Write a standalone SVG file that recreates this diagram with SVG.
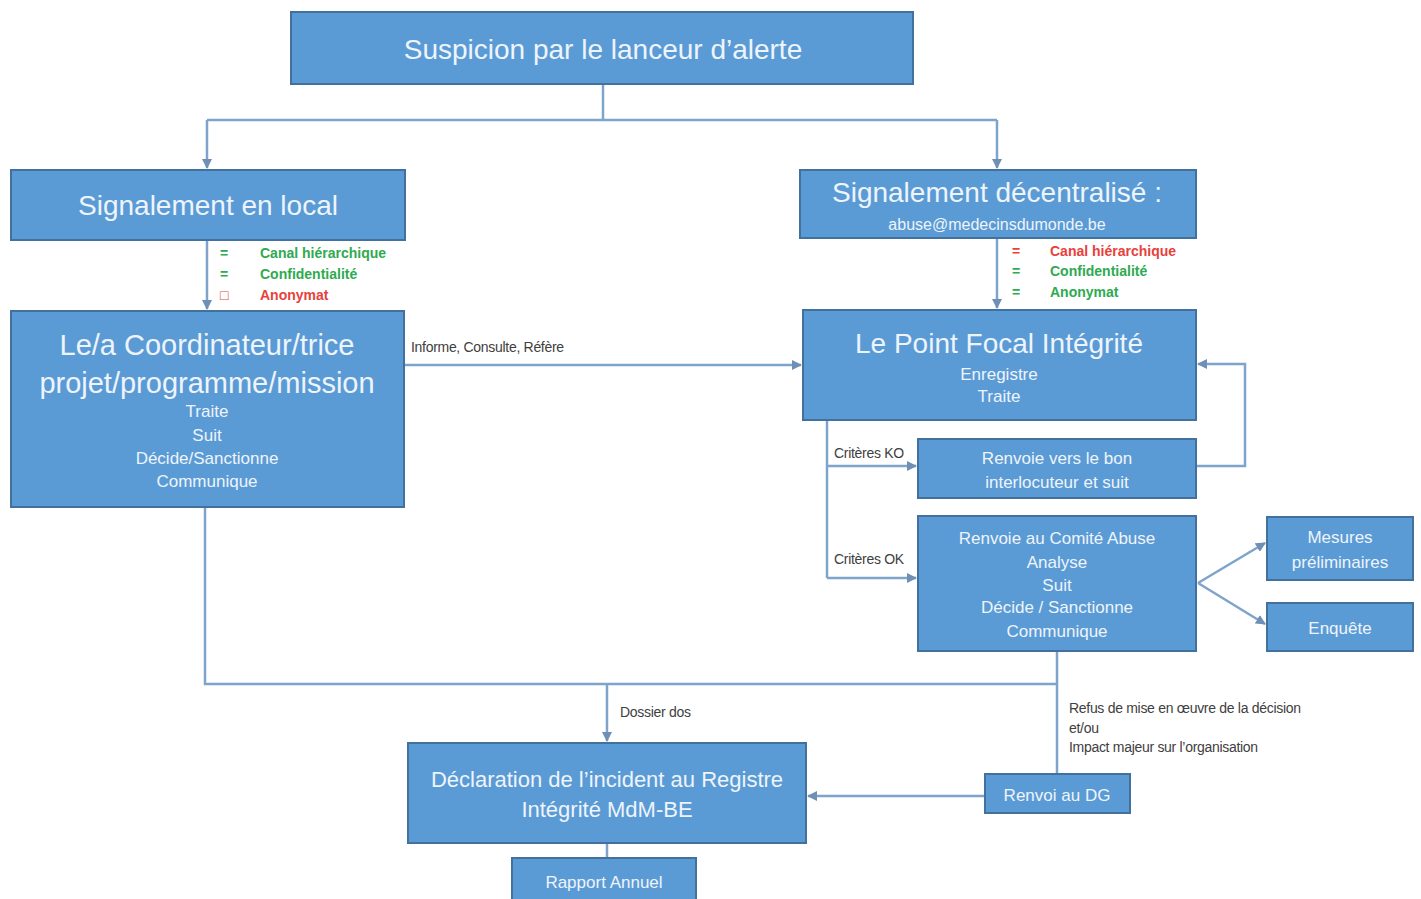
<svg xmlns="http://www.w3.org/2000/svg" width="1421" height="899" viewBox="0 0 1421 899">
<style>
.box{fill:#5b9bd5;stroke:#41719c;stroke-width:2}
.t{font-family:"Liberation Sans",Arial,sans-serif;fill:#eef4fb;text-anchor:middle}
.s{font-size:17px}
.lbl{font-family:"Liberation Sans",Arial,sans-serif;fill:#404040;font-size:14px;letter-spacing:-0.3px}
.g{font-family:"Liberation Sans",Arial,sans-serif;fill:#2eaa4f;font-size:14px;font-weight:bold}
.r{font-family:"Liberation Sans",Arial,sans-serif;fill:#e8413c;font-size:14px;font-weight:bold}
.c{fill:none;stroke:#7ea4cc;stroke-width:2.5}
</style>
<defs>
<marker id="ah" viewBox="0 0 10 10" refX="9" refY="5" markerWidth="4" markerHeight="4" orient="auto-start-reverse">
<path d="M0,0 L10,5 L0,10 z" fill="#6f8fb5"/>
</marker>
</defs>
<rect width="1421" height="899" fill="#ffffff"/>
<g id="connectors">
<path class="c" d="M603,84 V120"/>
<path class="c" d="M207,120 H997"/>
<path class="c" d="M207,120 V168" marker-end="url(#ah)"/>
<path class="c" d="M997,120 V168" marker-end="url(#ah)"/>
<path class="c" d="M207,240 V309" marker-end="url(#ah)"/>
<path class="c" d="M997,238 V308" marker-end="url(#ah)"/>
<path class="c" d="M404,365 H801" marker-end="url(#ah)"/>
<path class="c" d="M827,420 V578"/>
<path class="c" d="M827,466 H916" marker-end="url(#ah)"/>
<path class="c" d="M827,578 H916" marker-end="url(#ah)"/>
<path class="c" d="M1196,466 H1245 V364 H1198" marker-end="url(#ah)"/>
<path class="c" d="M1198,583 L1265,543" marker-end="url(#ah)"/>
<path class="c" d="M1198,583 L1265,624" marker-end="url(#ah)"/>
<path class="c" d="M205,507 V684 H1057"/>
<path class="c" d="M1057,651 V773"/>
<path class="c" d="M607,684 V741" marker-end="url(#ah)"/>
<path class="c" d="M985,796 H808" marker-end="url(#ah)"/>
<path class="c" d="M607,843 V858"/>
<text class="lbl" x="411" y="352">Informe, Consulte, Réfère</text>
<text class="lbl" x="834" y="458">Critères KO</text>
<text class="lbl" x="834" y="564">Critères OK</text>
<text class="lbl" x="620" y="717">Dossier dos</text>
<text class="lbl" x="1069" y="713">Refus de mise en œuvre de la décision</text>
<text class="lbl" x="1069" y="733">et/ou</text>
<text class="lbl" x="1069" y="752">Impact majeur sur l’organisation</text>
</g>
<g id="n-suspicion">
<rect class="box" x="291" y="12" width="622" height="72"/>
<text class="t" x="603" y="59" font-size="28">Suspicion par le lanceur d’alerte</text>
</g>
<g id="n-local">
<rect class="box" x="11" y="170" width="394" height="70"/>
<text class="t" x="208" y="215" font-size="28">Signalement en local</text>
</g>
<g id="n-local-list">
<text class="g" x="220" y="258">=</text><text class="g" x="260" y="258">Canal hiérarchique</text>
<text class="g" x="220" y="279">=</text><text class="g" x="260" y="279">Confidentialité</text>
<text class="r" x="220" y="300">□</text><text class="r" x="260" y="300">Anonymat</text>
</g>
<g id="n-decentral">
<rect class="box" x="800" y="170" width="396" height="68"/>
<text class="t" x="997" y="202" font-size="28">Signalement décentralisé :</text>
<text class="t" x="997" y="230" font-size="16">abuse@medecinsdumonde.be</text>
</g>
<g id="n-decentral-list">
<text class="r" x="1012" y="256">=</text><text class="r" x="1050" y="256">Canal hiérarchique</text>
<text class="g" x="1012" y="276">=</text><text class="g" x="1050" y="276">Confidentialité</text>
<text class="g" x="1012" y="297">=</text><text class="g" x="1050" y="297">Anonymat</text>
</g>
<g id="n-coord">
<rect class="box" x="11" y="311" width="393" height="196"/>
<text class="t" x="207" y="355" font-size="29">Le/a Coordinateur/trice</text>
<text class="t" x="207" y="393" font-size="29">projet/programme/mission</text>
<text class="t s" x="207" y="417">Traite</text>
<text class="t s" x="207" y="441">Suit</text>
<text class="t s" x="207" y="464">Décide/Sanctionne</text>
<text class="t s" x="207" y="487">Communique</text>
</g>
<g id="n-pfi">
<rect class="box" x="803" y="310" width="393" height="110"/>
<text class="t" x="999" y="353" font-size="28">Le Point Focal Intégrité</text>
<text class="t s" x="999" y="380">Enregistre</text>
<text class="t s" x="999" y="402">Traite</text>
</g>
<g id="n-renvoie">
<rect class="box" x="918" y="439" width="278" height="59"/>
<text class="t s" x="1057" y="464">Renvoie vers le bon</text>
<text class="t s" x="1057" y="488">interlocuteur  et suit</text>
</g>
<g id="n-comite">
<rect class="box" x="918" y="516" width="278" height="135"/>
<text class="t s" x="1057" y="544">Renvoie au Comité Abuse</text>
<text class="t s" x="1057" y="568">Analyse</text>
<text class="t s" x="1057" y="591">Suit</text>
<text class="t s" x="1057" y="613">Décide / Sanctionne</text>
<text class="t s" x="1057" y="637">Communique</text>
</g>
<g id="n-mesures">
<rect class="box" x="1267" y="517" width="146" height="63"/>
<text class="t s" x="1340" y="543">Mesures</text>
<text class="t s" x="1340" y="568">préliminaires</text>
</g>
<g id="n-enquete">
<rect class="box" x="1267" y="603" width="146" height="48"/>
<text class="t s" x="1340" y="634">Enquête</text>
</g>
<g id="n-declaration">
<rect class="box" x="408" y="743" width="398" height="100"/>
<text class="t" x="607" y="787" font-size="22">Déclaration de l’incident au Registre</text>
<text class="t" x="607" y="817" font-size="22">Intégrité MdM-BE</text>
</g>
<g id="n-dg">
<rect class="box" x="985" y="774" width="145" height="39"/>
<text class="t" x="1057" y="801" font-size="17">Renvoi au DG</text>
</g>
<g id="n-rapport">
<rect class="box" x="512" y="858" width="184" height="45"/>
<text class="t s" x="604" y="888">Rapport  Annuel</text>
</g>
</svg>
